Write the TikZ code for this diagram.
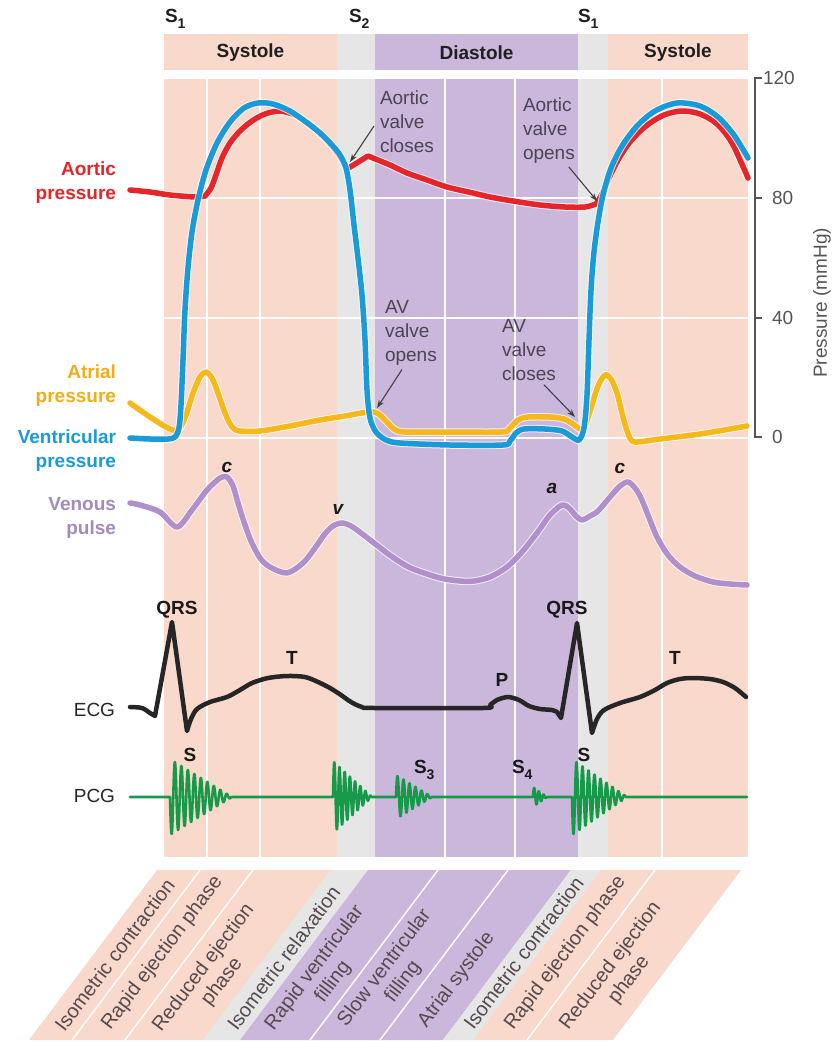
\documentclass[tikz,border=0pt]{standalone}
\usepackage{fontspec}
\setmainfont{Liberation Sans}
\usetikzlibrary{arrows.meta}
\definecolor{pinkbg}{HTML}{F8D9CB}
\definecolor{graybg}{HTML}{E6E6E6}
\definecolor{purpbg}{HTML}{CBB7DC}
\definecolor{aorticred}{HTML}{E5252A}
\definecolor{ventblue}{HTML}{1A9AD6}
\definecolor{atrialyel}{HTML}{F7B81C}
\definecolor{atriallab}{HTML}{F2AE1A}
\definecolor{venpurp}{HTML}{B08FCB}
\definecolor{venlab}{HTML}{A48BBF}
\definecolor{ecgblack}{HTML}{262626}
\definecolor{pcggreen}{HTML}{17994A}
\definecolor{annotgray}{HTML}{4B4452}
\definecolor{phasetext}{HTML}{574A4E}
\definecolor{axisgray}{HTML}{555555}
\newcommand{\Ssub}[1]{S\raisebox{-0.3em}{\fontsize{14}{14}\selectfont #1}}
\begin{document}
\begin{tikzpicture}[x=1pt,y=-1pt,
  every node/.style={inner sep=0pt, outer sep=0pt},
  hdr/.style={font=\fontsize{19}{24}\selectfont\bfseries, text=black!88},
  sideb/.style={font=\fontsize{19}{24}\selectfont\bfseries, align=right, anchor=east},
  sider/.style={font=\fontsize{19}{24}\selectfont, text=black!85, anchor=east},
  annot/.style={font=\fontsize{19}{24}\selectfont, text=annotgray, align=left, anchor=west},
  annotarrow/.style={draw=black!75, line width=1.1pt, -{Stealth[length=8pt,width=5.5pt]}},
  phase/.style={font=\fontsize{20}{23}\selectfont, text=phasetext, align=center, rotate=53},
  wavelab/.style={font=\fontsize{19}{24}\selectfont\bfseries, text=black!90},
  venlabel/.style={font=\fontsize{19}{24}\selectfont\bfseries\itshape, text=black!90},
  axislab/.style={font=\fontsize{19}{24}\selectfont, text=axisgray},
  curve/.style={line width=5.5pt, line cap=round, line join=round,
     preaction={draw=white, line width=7.5pt, opacity=0.75}},
  ecgline/.style={draw=ecgblack, line width=4.5pt, line cap=round, line join=round},
  pcgline/.style={draw=pcggreen, line width=2.6pt, line cap=round, line join=round},
  gridw/.style={draw=white, line width=1.4pt}
]
\useasboundingbox (0,0) rectangle (833,1042);
\fill[white] (0,0) rectangle (833,1042);

% ---------- header band ----------
\fill[pinkbg] (164,34) rectangle (337,70);
\fill[graybg] (337,34) rectangle (375,70);
\fill[purpbg] (375,34) rectangle (578,70);
\fill[graybg] (578,34) rectangle (608,70);
\fill[pinkbg] (608,34) rectangle (748,70);
\node[hdr] (sys1) at (250.5,53) {Systole};
\node[hdr] (dia) at (476.5,53) {Diastole};
\node[hdr] (sys2) at (678,53) {Systole};
\node[hdr, anchor=west] (hs1) at (165,19) {\Ssub{1}};
\node[hdr, anchor=west] (hs2) at (349,19) {\Ssub{2}};
\node[hdr, anchor=west] (hs3) at (578,19) {\Ssub{1}};

% ---------- main panel ----------
\fill[pinkbg] (164,79) rectangle (337,857);
\fill[graybg] (337,79) rectangle (375,857);
\fill[purpbg] (375,79) rectangle (578,857);
\fill[graybg] (578,79) rectangle (608,857);
\fill[pinkbg] (608,79) rectangle (748,857);
\foreach \gx in {207,260,445,515,662} \draw[gridw] (\gx,79) -- (\gx,857);
\foreach \gy in {198,318,438} \draw[gridw] (164,\gy) -- (748,\gy);

% ---------- pressure axis ----------
\draw[axisgray, line width=1.1pt] (762,78) -- (755,78) -- (755,437) -- (762,437);
\draw[axisgray, line width=1.1pt] (755,198) -- (762,198);
\draw[axisgray, line width=1.1pt] (755,318) -- (762,318);
\node[axislab, anchor=west] (t120) at (763,78) {120};
\node[axislab, anchor=west] (t80) at (772,198) {80};
\node[axislab, anchor=west] (t40) at (772,318) {40};
\node[axislab, anchor=west] (t0) at (772,437) {0};
\node[axislab, rotate=90] (ptitle) at (822,303) {Pressure (mmHg)};

% ---------- venous pulse ----------
\draw[curve, draw=venpurp] plot[smooth, tension=0.5] coordinates {
 (130,503) (140,505) (160,512) (177,527) (192,510) (207,490) (220,478) (227,477)
 (233,486) (238,503) (244,522) (251,541) (260,558) (270,567) (287,573) (303,563)
 (315,548) (324,535) (333,526) (342,523) (351,526) (361,533) (374,543) (387,553)
 (400,562) (413,569) (440,578) (460,581) (474,581) (490,577) (507,567) (522,552)
 (537,533) (550,515) (562,505) (569,508) (576,516) (582,520) (590,516) (598,511)
 (610,497) (620,486) (628,482) (635,488) (641,498) (648,515) (657,537) (668,555)
 (680,567) (695,576) (713,582) (730,584) (747,585)};

% ---------- atrial pressure ----------
\draw[curve, draw=atrialyel] plot[smooth, tension=0.5] coordinates {
 (130,403) (150,417) (170,429) (179,429) (186,415) (193,393) (200,377) (206,372)
 (212,378) (218,393) (225,413) (232,427) (240,431) (260,431) (290,426) (320,420)
 (345,416) (368,412) (377,413) (385,420) (394,429) (405,432) (450,432) (502,432)
 (510,428) (518,420) (528,417) (550,417) (564,419) (573,424) (580,429) (585,426)
 (591,408) (598,386) (605,375) (611,379) (617,393) (623,417) (629,436) (635,442)
 (660,439) (700,434) (747,426)};

% ---------- aortic pressure ----------
\draw[curve, draw=aorticred]
 plot[smooth, tension=0.5] coordinates {(130,190) (150,192) (170,195) (195,197) (205,196)}
 -- plot[smooth, tension=0.5] coordinates {(205,196) (211,188) (216,175) (222,158) (230,143)
   (240,131) (252,121) (265,114) (280,111) (295,115) (308,123) (320,133) (332,146) (341,158) (347,169)}
 -- plot[smooth, tension=0.5] coordinates {(368,156) (390,165) (407,173) (427,180) (447,187)
   (473,193) (490,197) (513,201) (540,205) (565,207) (585,207) (596,204)}
 -- plot[smooth, tension=0.5] coordinates {(596,204) (602,194) (609,178) (618,160) (630,142)
   (646,126) (664,115) (682,111) (700,114) (717,124) (732,143) (748,178)};

% ---------- ventricular pressure ----------
\draw[curve, draw=ventblue] plot[smooth, tension=0.5] coordinates {
 (130,438) (150,439) (168,439) (175,437) (179,428) (181,405) (183,360) (185,310)
 (188,268) (192,232) (198,200) (206,170) (217,143) (230,122) (244,108) (258,103)
 (273,104) (290,111) (306,122) (320,133) (332,145) (340,155) (346,168) (350,190)
 (354,225) (358,258) (362,295) (365,340) (367,390) (370,418) (376,432) (386,440)
 (400,443) (450,445) (503,445) (510,441) (516,433) (524,429) (545,429) (562,431)
 (572,437) (579,440) (584,428) (587,395) (589,340) (591,290) (594,252) (598,222)
 (603,195) (611,168) (622,146) (637,126) (655,111) (677,103) (700,106) (718,117)
 (734,135) (748,158)};

% ---------- ECG ----------
\draw[ecgline]
 plot[smooth, tension=0.5] coordinates {(130,707) (142,708) (150,713) (155,716)}
 -- (172,622) -- (187,731)
 -- plot[smooth, tension=0.5] coordinates {(187,731) (191,719) (197,709) (210,702) (227,697)
   (240,690) (252,683) (268,678) (287,676) (305,677) (318,682) (330,688) (341,695)
   (351,702) (362,707) (375,708) (483,708) (490,705) (497,700) (508,697) (519,700)
   (529,706) (540,709) (552,710) (557,712)}
 -- (561,718) -- (577,623) -- (592,733)
 -- plot[smooth, tension=0.5] coordinates {(592,733) (597,719) (604,710) (620,703) (640,697)
   (655,690) (667,683) (680,679) (693,678) (710,679) (723,682) (735,688) (746,697)};

% ---------- PCG ----------
\draw[pcgline] (130,797) -- (170,797)
 -- plot[domain=170:232, samples=220] (\x, {797 + 38*(1-(\x-170)/62)*sin(55.385*(\x-170))})
 -- (333,797)
 -- plot[domain=333:372, samples=200] (\x, {797 - 36*(1-(\x-333)/39)*sin(69.23*(\x-333))})
 -- (396,797)
 -- plot[domain=396:432, samples=160] (\x, {797 - 22*(1-(\x-396)/36)*sin(60*(\x-396))})
 -- (533,797)
 -- plot[domain=533:547, samples=80] (\x, {797 - 10*(1-(\x-533)/14)*sin(76.6*(\x-533))})
 -- (572,797)
 -- plot[domain=572:627, samples=220] (\x, {797 + 38*(1-(\x-572)/55)*sin(60*(\x-572))})
 -- (747,797);

% ---------- curve labels ----------
\node[sideb, text=aorticred] (laort) at (116,183) {Aortic\\pressure};
\node[sideb, text=atriallab] (latr) at (116,386) {Atrial\\pressure};
\node[sideb, text=ventblue] (lvent) at (116,451) {Ventricular\\pressure};
\node[sideb, text=venlab] (lven) at (116,518) {Venous\\pulse};
\node[sider] (lecg) at (115,710) {ECG};
\node[sider] (lpcg) at (115,796) {PCG};

\node[venlabel] (vc1) at (227,467) {c};
\node[venlabel] (vv) at (338,509) {v};
\node[venlabel] (va) at (552,488) {a};
\node[venlabel] (vc2) at (620,468) {c};

\node[wavelab] (qrs1) at (177,610) {QRS};
\node[wavelab] (qrs2) at (567,610) {QRS};
\node[wavelab] (tw1) at (292,658) {T};
\node[wavelab] (tw2) at (675,658) {T};
\node[wavelab] (pw) at (502,680) {P};

\node[wavelab] (ps1) at (190,755) {S};
\node[wavelab, anchor=west] (ps3) at (414,770) {\Ssub{3}};
\node[wavelab, anchor=west] (ps4) at (512,770) {\Ssub{4}};
\node[wavelab] (ps2) at (584,755) {S};

% ---------- annotations ----------
\node[annot] (aclose) at (380,122) {Aortic\\valve\\closes};
\node[annot] (aopen) at (523,131) {Aortic\\valve\\opens};
\node[annot] (avopen) at (385,333) {AV\\valve\\opens};
\node[annot] (avclose) at (502,350) {AV\\valve\\closes};
\coordinate (acloseTip) at (350,162);
\coordinate (aopenTip) at (597,201);
\coordinate (avopenTip) at (377,408);
\coordinate (avcloseTip) at (575,417);
\draw[annotarrow] ([shift={(-6,4)}]aclose.west) -- (acloseTip);
\draw[annotarrow] ([shift={(-6,3)}]aopen.south east) -- (aopenTip);
\draw[annotarrow] ([shift={(17,4)}]avopen.south west) -- (avopenTip);
\draw[annotarrow] ([shift={(-12,4)}]avclose.south east) -- (avcloseTip);

% ---------- phase strip ----------
\def\sh{128}
\foreach \xa/\xb/\col in {157/200/pinkbg, 200/253/pinkbg, 253/331/pinkbg, 331/368/graybg,
   368/438/purpbg, 438/508/purpbg, 508/571/purpbg, 571/601/graybg, 601/655/pinkbg, 655/741/pinkbg}
  \fill[\col] (\xa,870) -- (\xb,870) -- (\xb-\sh,1040) -- (\xa-\sh,1040) -- cycle;
\foreach \xd in {200,253,438,508,655}
  \draw[gridw] (\xd,870) -- (\xd-\sh,1040);

\node[phase] (ph1) at (114.5,955) {Isometric contraction};
\node[phase] (ph2) at (162.5,953) {Rapid ejection phase};
\node[phase] (ph3) at (213,975) {Reduced ejection\\phase};
\node[phase] (ph4) at (283.5,958) {Isometric relaxation};
\node[phase] (ph5) at (324,975) {Rapid ventricular\\filling};
\node[phase] (ph6) at (394,975) {Slow ventricular\\filling};
\node[phase] (ph7) at (456.5,980) {Atrial systole};
\node[phase] (ph8) at (523.5,953) {Isometric contraction};
\node[phase] (ph9) at (565.5,953) {Rapid ejection phase};
\node[phase] (ph10) at (620,973) {Reduced ejection\\phase};
\end{tikzpicture}
\end{document}
